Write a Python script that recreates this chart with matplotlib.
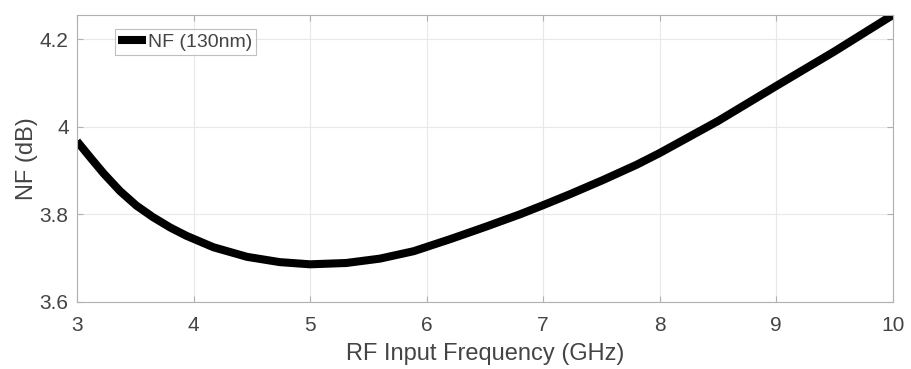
import matplotlib
matplotlib.use("Agg")
import matplotlib.pyplot as plt

freq_ghz = [3.00, 3.12, 3.23, 3.37, 3.51, 3.65, 3.80, 3.94, 4.17, 4.46, 4.74, 5.00, 5.31,
            5.60, 5.89, 6.22, 6.51, 6.80, 7.00, 7.23, 7.51, 7.80, 8.00, 8.50, 9.00, 9.50, 10.00]
nf_db = [3.967, 3.928, 3.893, 3.853, 3.820, 3.794, 3.770, 3.751, 3.725, 3.703, 3.691, 3.686,
         3.689, 3.699, 3.716, 3.745, 3.772, 3.800, 3.821, 3.846, 3.878, 3.913, 3.940, 4.013,
         4.093, 4.172, 4.255]
series_label = "NF (130nm)"
xticks = [3, 4, 5, 6, 7, 8, 9, 10]
yticks = [3.6, 3.8, 4.0, 4.2]
ytick_labels = ["3.6", "3.8", "4", "4.2"]

plt.rcParams['font.family'] = ['Liberation Sans', 'DejaVu Sans']
fig = plt.figure(figsize=(9.11, 3.69), dpi=100)
ax = fig.add_axes([0.0845, 0.1816, 0.8955, 0.7777])

ax.plot(freq_ghz, nf_db, color='black', linewidth=5.8, solid_capstyle='butt',
        solid_joinstyle='round', label=series_label)
ax.set_xlim(3, 10)
ax.set_ylim(3.6, 4.255)
ax.set_xticks(xticks)
ax.set_xticklabels([str(t) for t in xticks])
ax.set_yticks(yticks)
ax.set_yticklabels(ytick_labels)

text_col = '#444444'
for s in ax.spines.values():
    s.set_color('#b0b0b0')
    s.set_linewidth(0.8)
ax.tick_params(direction='in', length=4, width=0.8, colors='#b0b0b0', labelcolor=text_col,
               labelsize=15, top=True, right=True)
ax.tick_params(axis='x', pad=10)
ax.tick_params(axis='y', pad=6)
ax.grid(True, color='#e8e8e8', linewidth=0.8)
ax.set_axisbelow(True)

ax.set_xlabel("RF Input Frequency (GHz)", fontsize=17, color=text_col, labelpad=6)
ax.set_ylabel("NF (dB)", fontsize=17, color=text_col, labelpad=1)

leg = ax.legend(loc='upper left', bbox_to_anchor=(0.046, 0.95), borderaxespad=0,
                fontsize=14, frameon=True, fancybox=False, handlelength=1.4,
                handletextpad=0.1, borderpad=0.2, labelcolor=text_col)
leg.get_frame().set_edgecolor('#b0b0b0')
leg.get_frame().set_linewidth(0.8)

fig.savefig("out.png", dpi=100)
